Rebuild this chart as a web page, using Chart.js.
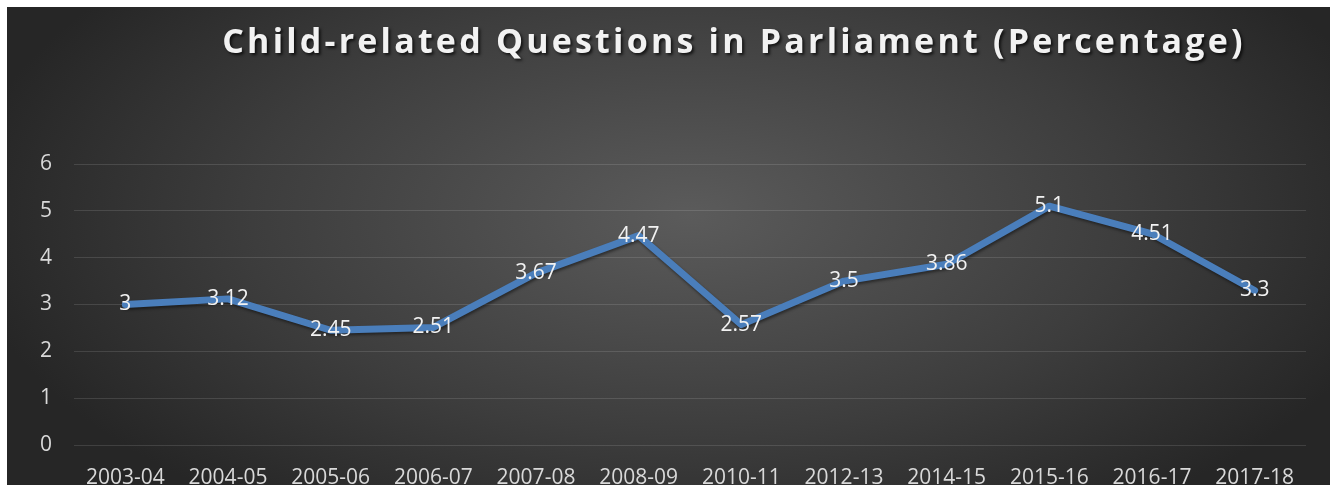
<!DOCTYPE html>
<html>
<head>
    <title>Child-related Questions in Parliament</title>
    <script src="https://cdn.jsdelivr.net/npm/chart.js"></script>
    <style>
        html, body { margin: 0; padding: 0; background: #fff; }
    </style>
</head>
<body>
    <canvas id="lineChart" width="1337" height="485"></canvas>
    <script>
        const chartTitle = 'Child-related Questions in Parliament (Percentage)';
        const years = ['2003-04', '2004-05', '2005-06', '2006-07', '2007-08', '2008-09',
                       '2010-11', '2012-13', '2014-15', '2015-16', '2016-17', '2017-18'];
        const percentages = [3, 3.12, 2.45, 2.51, 3.67, 4.47, 2.57, 3.5, 3.86, 5.1, 4.51, 3.3];
        const yMin = 0;
        const yMax = 6;

        // dark panel with a soft light spot in the middle + the title
        const backdrop = {
            id: 'backdrop',
            beforeDraw(chart) {
                const ctx = chart.ctx;
                const w = chart.width, h = chart.height;
                ctx.save();
                ctx.fillStyle = '#ffffff';
                ctx.fillRect(0, 0, w, h);
                const x0 = 7, y0 = 7, x1 = 1330, y1 = h;
                const cx = 690, cy = 215, sy = 0.5;
                ctx.translate(cx, cy);
                ctx.scale(1, sy);
                const g = ctx.createRadialGradient(0, 0, 0, 0, 0, 730);
                g.addColorStop(0, '#5b5b5b');
                g.addColorStop(0.6, '#3d3d3d');
                g.addColorStop(1, '#262626');
                ctx.fillStyle = g;
                ctx.fillRect(x0 - cx, (y0 - cy) / sy, x1 - x0, (y1 - y0) / sy);
                ctx.restore();

                ctx.save();
                ctx.font = 'bold 34px "Open Sans"';
                ctx.letterSpacing = '3.2px';
                ctx.textAlign = 'center';
                ctx.textBaseline = 'alphabetic';
                ctx.shadowColor = 'rgba(0,0,0,0.7)';
                ctx.shadowOffsetX = 2;
                ctx.shadowOffsetY = 2;
                ctx.shadowBlur = 3;
                ctx.fillStyle = '#f2f2f2';
                ctx.fillText(chartTitle, 734, 53);
                ctx.restore();
            },
            beforeDatasetDraw(chart) {
                const ctx = chart.ctx;
                ctx.save();
                ctx.shadowColor = 'rgba(0,0,0,0.45)';
                ctx.shadowOffsetX = 1;
                ctx.shadowOffsetY = 2;
                ctx.shadowBlur = 3;
            },
            afterDatasetDraw(chart) {
                chart.ctx.restore();
            },
            afterDatasetsDraw(chart) {
                const ctx = chart.ctx;
                const meta = chart.getDatasetMeta(0);
                ctx.save();
                ctx.font = '21px "Open Sans"';
                ctx.fillStyle = '#f2f2f2';
                ctx.textAlign = 'center';
                ctx.textBaseline = 'middle';
                meta.data.forEach((pt, i) => {
                    ctx.fillText(String(percentages[i]), pt.x, pt.y);
                });
                ctx.restore();
            }
        };

        const lineCtx = document.getElementById('lineChart').getContext('2d');
        const lineChart = new Chart(lineCtx, {
            type: 'line',
            data: {
                labels: years,
                datasets: [{
                    label: 'Percentage',
                    data: percentages,
                    borderColor: '#4a7ebb',
                    borderWidth: 7,
                    borderJoinStyle: 'round',
                    borderCapStyle: 'round',
                    pointRadius: 0,
                    tension: 0,
                    fill: false
                }]
            },
            options: {
                responsive: false,
                animation: false,
                layout: {
                    padding: { left: 7, right: 31, top: 164, bottom: 0 }
                },
                plugins: {
                    legend: { display: false },
                    title: { display: false },
                    tooltip: { enabled: false }
                },
                scales: {
                    x: {
                        offset: true,
                        grid: { display: false, drawTicks: false },
                        border: { display: false },
                        ticks: {
                            color: '#d9d9d9',
                            font: { family: 'Open Sans', size: 21 },
                            padding: 20,
                            maxRotation: 0,
                            autoSkip: false
                        },
                        afterFit(scale) { scale.height = 40; }
                    },
                    y: {
                        min: yMin,
                        max: yMax,
                        grid: { color: 'rgba(255,255,255,0.12)', drawTicks: false },
                        border: { display: false },
                        ticks: {
                            stepSize: 1,
                            color: '#d9d9d9',
                            font: { family: 'Open Sans', size: 21 },
                            padding: 22
                        },
                        afterFit(scale) { scale.width = 67; }
                    }
                }
            },
            plugins: [backdrop]
        });
    </script>
</body>
</html>
